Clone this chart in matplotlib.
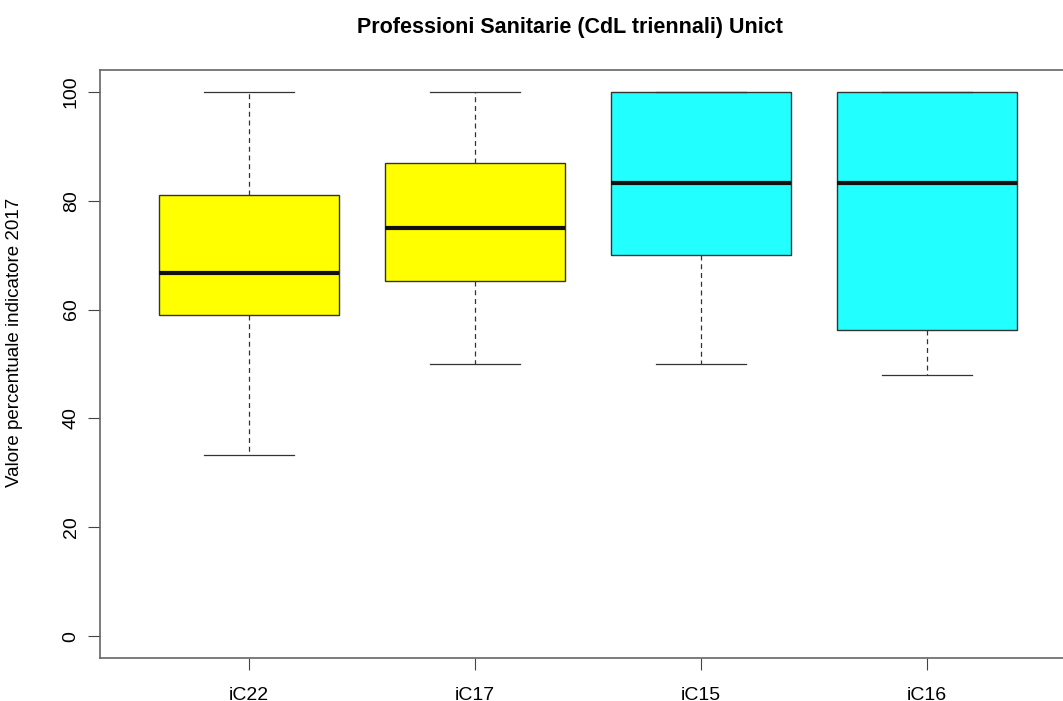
import matplotlib
matplotlib.use("Agg")
import matplotlib.pyplot as plt

plt.rcParams['font.family'] = ['Liberation Sans', 'DejaVu Sans']

labels = ["iC22", "iC17", "iC15", "iC16"]
whislo = [33.3, 50.0, 50.0, 48.0]
q1 = [59.0, 65.2, 70.0, 56.3]
med = [66.7, 75.0, 83.3, 83.3]
q3 = [81.0, 86.9, 100.0, 100.0]
whishi = [100.0, 100.0, 100.0, 100.0]
colors = ["#ffff00", "#ffff00", "#22ffff", "#22ffff"]

stats = []
for i in range(len(labels)):
    stats.append({"label": labels[i], "whislo": whislo[i], "q1": q1[i],
                  "med": med[i], "q3": q3[i], "whishi": whishi[i], "fliers": []})

fig = plt.figure(figsize=(10.63, 7.01), dpi=100)
ax = fig.add_axes([100 / 1063, 43 / 701, 976 / 1063, 588 / 701])

bp = ax.bxp(stats, positions=range(1, 5), widths=0.8, patch_artist=True,
            showfliers=False,
            boxprops=dict(edgecolor="#333333", linewidth=1.0),
            medianprops=dict(color="#111111", linewidth=3),
            whiskerprops=dict(color="#333333", linestyle=(0, (4, 3)), linewidth=0.9),
            capprops=dict(color="#333333", linewidth=0.9),
            capwidths=0.4)
for patch, c in zip(bp["boxes"], colors):
    patch.set_facecolor(c)

ax.set_xlim(0.34, 4.66)
ax.set_ylim(-4, 104)
ax.set_yticks([0, 20, 40, 60, 80, 100])
ax.set_yticklabels(["0", "20", "40", "60", "80", "100"], rotation=90, va="center")
ax.tick_params(axis="both", labelsize=14, length=8.6, color="#444444", pad=6)
ax.tick_params(axis="x", pad=12)
for s in ax.spines.values():
    s.set_color("#666666")
    s.set_linewidth(1.2)

fig.text(15 / 1063, 1 - 342 / 701, "Valore percentuale indicatore 2017",
         rotation=90, ha="center", va="center", fontsize=13.5)
fig.text(570 / 1063, 1 - 27 / 701, "Professioni Sanitarie (CdL triennali) Unict",
         ha="center", va="center", fontsize=15.5, fontweight="bold")

fig.savefig("out.png", dpi=100)
